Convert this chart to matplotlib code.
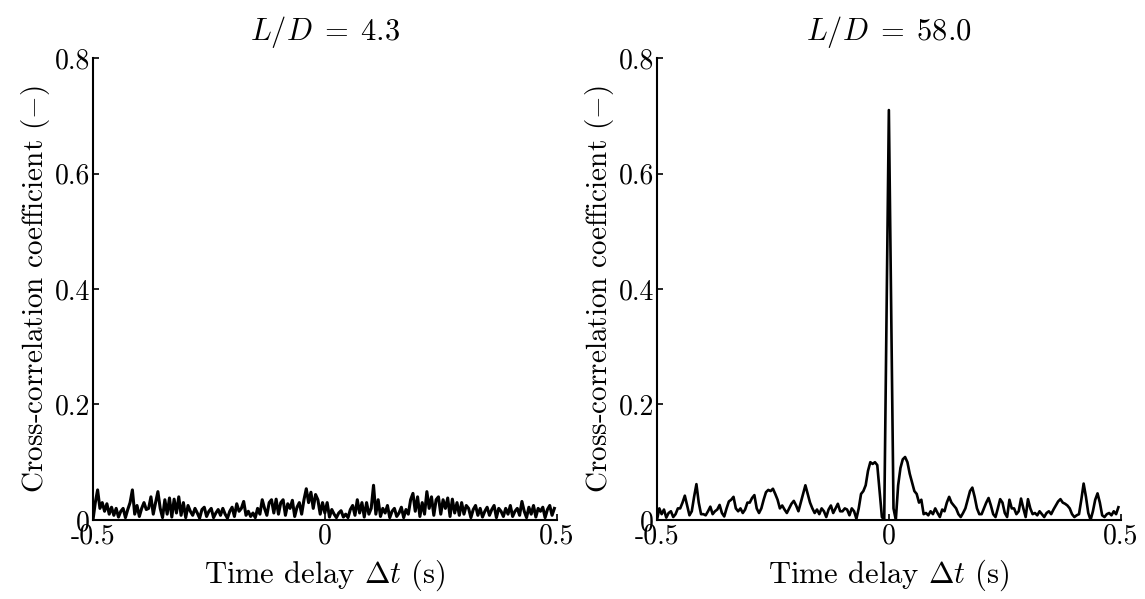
import numpy as np
import matplotlib
matplotlib.use("Agg")
import matplotlib.pyplot as plt

plt.rcParams.update({
    'font.family': 'serif',
    'font.serif': ['cmr10'],
    'mathtext.fontset': 'cm',
    'axes.unicode_minus': False,
    'axes.formatter.use_mathtext': True,
})

# time delay grid (s)
dt = np.round(np.arange(200) * 0.005 - 0.5, 4)

# L/D = 4.3
cc_near = [
    0.0, 0.03, 0.052, 0.02, 0.03, 0.015, 0.028, 0.01, 0.022, 0.008,
    0.02, 0.005, 0.015, 0.02, 0.004, 0.018, 0.03, 0.052, 0.01, 0.025,
    0.006, 0.02, 0.03, 0.018, 0.02, 0.04, 0.01, 0.03, 0.049, 0.02,
    0.004, 0.035, 0.01, 0.038, 0.005, 0.036, 0.012, 0.04, 0.008, 0.03,
    0.004, 0.025, 0.015, 0.008, 0.02, 0.012, 0.003, 0.018, 0.022, 0.006,
    0.015, 0.02, 0.004, 0.012, 0.018, 0.008, 0.02, 0.01, 0.003, 0.015,
    0.022, 0.006, 0.028, 0.015, 0.02, 0.032, 0.008, 0.015, 0.006, 0.012,
    0.004, 0.02, 0.01, 0.035, 0.02, 0.008, 0.03, 0.035, 0.012, 0.036,
    0.01, 0.03, 0.035, 0.008, 0.028, 0.02, 0.034, 0.006, 0.022, 0.03,
    0.01, 0.035, 0.054, 0.03, 0.048, 0.02, 0.044, 0.035, 0.01, 0.03,
    0.012, 0.03, 0.005, 0.018, 0.01, 0.004, 0.012, 0.016, 0.005, 0.01,
    0.004, 0.018, 0.025, 0.008, 0.035, 0.012, 0.03, 0.005, 0.03, 0.01,
    0.02, 0.06, 0.01, 0.035, 0.006, 0.02, 0.012, 0.025, 0.004, 0.015,
    0.02, 0.006, 0.012, 0.022, 0.004, 0.018, 0.01, 0.035, 0.046, 0.015,
    0.04, 0.006, 0.03, 0.01, 0.049, 0.02, 0.04, 0.008, 0.035, 0.04,
    0.01, 0.035, 0.02, 0.038, 0.006, 0.036, 0.012, 0.03, 0.008, 0.03,
    0.01, 0.025, 0.02, 0.004, 0.018, 0.025, 0.008, 0.02, 0.005, 0.015,
    0.022, 0.008, 0.018, 0.025, 0.004, 0.02, 0.015, 0.006, 0.02, 0.01,
    0.025, 0.006, 0.015, 0.02, 0.008, 0.032, 0.015, 0.004, 0.022, 0.01,
    0.025, 0.005, 0.02, 0.015, 0.022, 0.004, 0.018, 0.025, 0.008, 0.02,
]

# L/D = 58.0
cc_far = [
    0.0, 0.02, 0.01, 0.018, 0.004, 0.012, 0.015, 0.005, 0.01, 0.02,
    0.02, 0.03, 0.042, 0.025, 0.008, 0.015, 0.04, 0.062, 0.03, 0.01,
    0.01, 0.008, 0.015, 0.023, 0.01, 0.015, 0.018, 0.026, 0.012, 0.006,
    0.02, 0.032, 0.035, 0.04, 0.02, 0.015, 0.02, 0.012, 0.018, 0.03,
    0.03, 0.038, 0.043, 0.02, 0.012, 0.02, 0.035, 0.048, 0.052, 0.05,
    0.054, 0.045, 0.035, 0.02, 0.025, 0.018, 0.012, 0.02, 0.028, 0.033,
    0.025, 0.015, 0.03, 0.045, 0.06, 0.045, 0.03, 0.02, 0.012, 0.018,
    0.01, 0.02, 0.015, 0.005, 0.018, 0.025, 0.012, 0.02, 0.028, 0.015,
    0.015, 0.02, 0.018, 0.008, 0.02, 0.015, 0.002, 0.02, 0.045, 0.05,
    0.06, 0.085, 0.1, 0.097, 0.1, 0.095, 0.05, 0.005, 0.0, 0.36,
    0.71, 0.36, 0.02, 0.0, 0.06, 0.09, 0.105, 0.109, 0.1, 0.08,
    0.065, 0.05, 0.045, 0.03, 0.035, 0.01, 0.012, 0.008, 0.015, 0.01,
    0.02, 0.012, 0.005, 0.018, 0.015, 0.03, 0.04, 0.03, 0.025, 0.02,
    0.01, 0.005, 0.012, 0.02, 0.035, 0.05, 0.056, 0.04, 0.02, 0.01,
    0.01, 0.02, 0.03, 0.038, 0.025, 0.01, 0.005, 0.02, 0.036, 0.03,
    0.012, 0.005, 0.035, 0.02, 0.02, 0.01, 0.015, 0.037, 0.02, 0.005,
    0.036, 0.02, 0.01, 0.012, 0.008, 0.015, 0.01, 0.005, 0.012, 0.015,
    0.01, 0.018, 0.025, 0.032, 0.036, 0.03, 0.028, 0.025, 0.02, 0.01,
    0.005, 0.008, 0.01, 0.035, 0.063, 0.04, 0.012, 0.0, 0.015, 0.035,
    0.046, 0.03, 0.008, 0.005, 0.01, 0.012, 0.008, 0.015, 0.01, 0.022,
]

titles = [r'$L/D\;=\;4.3$', r'$L/D\;=\;58.0$']
series = [cc_near, cc_far]
widths = [2.2, 1.9]
xticks = [-0.5, 0, 0.5]
xticklabels = ['-0.5', '0', '0.5']
yticks = [0, 0.2, 0.4, 0.6, 0.8]
yticklabels = ['0', '0.2', '0.4', '0.6', '0.8']

fig = plt.figure(figsize=(11.45, 5.99), dpi=100)
lefts = [0.0812, 0.5738]
for left, title, cc, lw in zip(lefts, titles, series, widths):
    ax = fig.add_axes([left, 0.132, 0.405, 0.771])
    ax.plot(dt, cc, color='black', lw=lw)
    ax.set_xlim(-0.5, 0.5)
    ax.set_ylim(0, 0.8)
    ax.set_xticks(xticks)
    ax.set_xticklabels(xticklabels)
    ax.set_yticks(yticks)
    ax.set_yticklabels(yticklabels)
    ax.spines['top'].set_visible(False)
    ax.spines['right'].set_visible(False)
    ax.spines['left'].set_linewidth(1.5)
    ax.spines['bottom'].set_linewidth(1.5)
    ax.tick_params(direction='in', length=4, width=1.2, labelsize=20, pad=2)
    ax.set_xlabel(r'Time delay $\Delta t$ (s)', fontsize=22, labelpad=6)
    ax.set_ylabel(r'Cross-correlation coefficient $(-)$', fontsize=21, labelpad=2)
    ax.set_title(title, fontsize=22, pad=13)

fig.savefig('out.png', dpi=100)
